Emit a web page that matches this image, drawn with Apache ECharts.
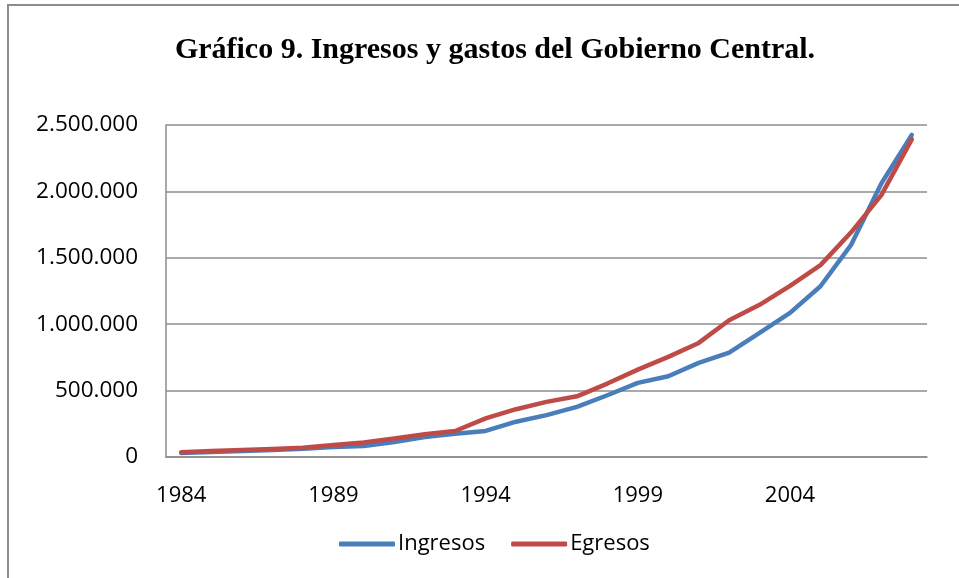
<!DOCTYPE html>
<html>
<head>
<meta charset="utf-8">
<script src="https://cdn.jsdelivr.net/npm/echarts@6/dist/echarts.min.js"></script>
<style>
  html, body { margin: 0; padding: 0; background: #fff; }
  #chart { width: 959px; height: 578px; }
</style>
</head>
<body>
<div id="chart"></div>
<script>
// años 1984-2008
const years = [];
for (let y = 1984; y <= 2008; y++) years.push(String(y));

// valores
const ingresos = [30000, 38000, 45000, 52000, 62000, 75000, 83000, 112000, 150000, 175000,
  196000, 266000, 315000, 377000, 465000, 558000, 608000, 709000, 786000, 935000,
  1085000, 1286000, 1595000, 2060000, 2425000];
const egresos = [35000, 45000, 52000, 60000, 70000, 90000, 110000, 140000, 171000, 196000,
  291000, 360000, 415000, 457000, 553000, 658000, 754000, 859000, 1030000, 1146000,
  1289000, 1445000, 1690000, 1972000, 2392000];

const yTicks = [0, 500000, 1000000, 1500000, 2000000, 2500000];

function fmt(v) {
  return String(v).replace(/\B(?=(\d{3})+(?!\d))/g, ".");
}

const labelFont = "'Open Sans', sans-serif";

let myChart = echarts.init(document.getElementById("chart"));
myChart.setOption({
  animation: false,
  title: {
    text: "Gráfico 9. Ingresos y gastos del Gobierno Central.",
    left: 490,
    textAlign: "center",
    top: 30,
    textStyle: {
      fontFamily: "'Liberation Serif', serif",
      fontWeight: "bold",
      fontSize: 30,
      color: "#000"
    }
  },
  graphic: [{
    type: "rect",
    shape: { x: 8, y: 5, width: 1200, height: 1000 },
    style: { fill: "none", stroke: "#8c8c8c", lineWidth: 2 },
    silent: true
  }],
  legend: {
    data: ["Ingresos", "Egresos"],
    left: 334,
    top: 528,
    icon: "roundRect",
    itemWidth: 56,
    itemHeight: 5,
    itemGap: 26,
    textStyle: { fontFamily: labelFont, fontSize: 22, color: "#000", padding: [0, 0, 0, -2] }
  },
  grid: { left: 166, right: 32, top: 125, bottom: 121 },
  xAxis: {
    type: "category",
    data: years,
    boundaryGap: true,
    axisLine: { lineStyle: { color: "#8c8c8c", width: 1.5 } },
    axisTick: { show: false },
    axisLabel: {
      interval: 4,
      margin: 28,
      fontFamily: labelFont,
      fontSize: 22,
      color: "#000"
    }
  },
  yAxis: {
    type: "value",
    min: yTicks[0],
    max: yTicks[yTicks.length - 1],
    interval: 500000,
    axisLine: { show: true, lineStyle: { color: "#8c8c8c", width: 1.5 } },
    axisTick: { show: false },
    splitLine: { lineStyle: { color: "#8c8c8c", width: 1.5 } },
    axisLabel: {
      margin: 28,
      fontFamily: labelFont,
      fontSize: 22.5,
      color: "#000",
      formatter: fmt
    }
  },
  series: [
    {
      name: "Ingresos",
      type: "line",
      data: ingresos,
      symbol: "none",
      itemStyle: { color: "#4a7ebb" },
      lineStyle: { color: "#4a7ebb", width: 4.5, cap: "round", join: "round" }
    },
    {
      name: "Egresos",
      type: "line",
      data: egresos,
      symbol: "none",
      itemStyle: { color: "#be4b48" },
      lineStyle: { color: "#be4b48", width: 4.5, cap: "round", join: "round" }
    }
  ]
});
</script>
</body>
</html>
